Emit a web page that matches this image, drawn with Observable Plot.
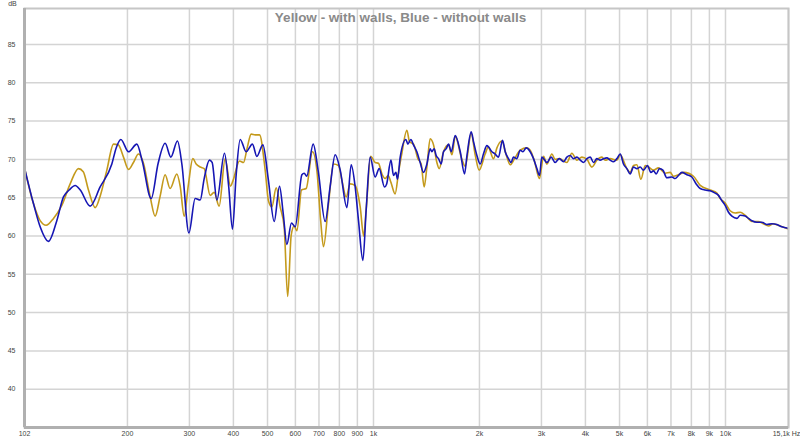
<!DOCTYPE html>
<html><head><meta charset="utf-8">
<script src="https://cdn.jsdelivr.net/npm/d3@7"></script>
<script src="https://cdn.jsdelivr.net/npm/@observablehq/plot@0.6"></script>
<style>
html,body{margin:0;padding:0;background:#fff;}
#chart{width:800px;height:440px;}
#chart svg{display:block;}
</style></head><body><div id="chart"></div>
<script>
const title = "Yellow - with walls, Blue - without walls";
const yUnit = "dB";
const xTicks = [102,200,300,400,500,600,700,800,900,1000,2000,3000,4000,5000,6000,7000,8000,9000,10000,15100];
const xTickLabels = ["102","200","300","400","500","600","700","800","900","1k","2k","3k","4k","5k","6k","7k","8k","9k","10k","15,1k Hz"];
const yTicks = [40,45,50,55,60,65,70,75,80,85];

// Blue - without walls
const blueFreq = [
  102,108.2,113,119.3,126,131.6,136.6,142.1,146.9,156.7,
  167.3,180.6,185.8,191.6,201.4,212.7,220.3,233.6,244.5,255.9,
  265.7,277.4,285.5,299,311.5,321.9,330.4,342,348,359,
  377.3,387.8,397.6,407.3,418.2,434.7,453,466.3,485.1,502.2,
  522.4,540.8,553.9,567.5,584.8,599.3,626.1,635.6,646,674.1,
  696.5,729.1,753.4,778.4,804.4,840.3,864.3,887.1,906.7,933,
  953.5,978.6,1011,1038,1075,1090,1121,1140,1158,1170,
  1191,1236,1252,1277,1299,1328,1357,1387,1418,1449,
  1465,1487,1507,1530,1557,1581,1609,1634,1663,1707,
  1764,1814,1843,1895,1924,1967,2010,2053,2100,2170,
  2217,2265,2326,2367,2418,2461,2498,2555,2610,2657,
  2715,2787,2848,2912,2962,3008,3109,3197,3282,3370,
  3466,3543,3621,3700,3783,3866,3951,4040,4128,4217,
  4312,4406,4502,4604,4703,4806,4914,5022,5131,5246,
  5361,5477,5601,5723,5848,6003,6138,6244,6354,6493,
  6639,6814,7041,7195,7352,7516,7766,8024,8255,8476,
  8757,9048,9348,9552,9768,9979,10197,10428,10775,11010,
  11376,11623,11885,12280,12688,13110,13545,13995,14460,15100
];
const blueDb = [
  68.9,64.2,61.2,59.3,62.0,65.1,66.0,66.6,66.0,63.9,
  66.4,69.4,71.5,72.6,71.0,72.0,69.8,64.9,69.5,72.1,
  70.3,72.4,69.4,60.4,64.9,64.7,67.5,69.9,69.6,64.7,
  70.8,66.5,60.9,68.0,72.6,71.0,72.0,70.4,71.9,67.5,
  61.9,66.5,63.0,58.9,61.7,61.2,68.0,68.2,67.8,72.0,
  68.5,61.9,66.5,70.6,68.6,63.7,69.3,66.4,62.0,56.8,
  63.5,70.3,67.7,68.8,66.4,66.8,69.9,67.9,68.3,67.4,
  70.3,72.6,72.0,72.6,71.9,71.0,69.6,68.3,69.4,71.4,
  71.0,71.4,70.5,70.1,69.4,71.0,71.4,72.0,71.0,73.1,
  71.0,68.1,70.5,73.6,72.3,70.5,69.4,70.7,71.8,71.0,
  70.7,70.3,72.5,71.0,70.1,69.6,70.3,70.1,71.2,71.0,
  71.5,71.0,70.1,68.8,67.9,70.3,69.6,70.3,69.6,70.1,
  69.7,70.3,70.5,70.1,70.3,69.9,69.6,70.1,70.3,69.6,
  70.1,69.9,70.1,70.2,69.9,69.7,70.1,70.7,69.4,68.8,
  68.1,69.0,68.8,69.0,68.6,69.2,68.3,68.5,68.1,68.8,
  68.6,67.6,67.7,67.5,67.9,68.3,68.0,67.7,66.8,66.2,
  66.0,65.9,65.6,65.3,64.6,64.0,63.1,62.6,62.3,62.7,
  62.6,62.3,62.0,61.8,61.8,61.5,61.6,61.5,61.2,61.0
];

// Yellow - with walls
const yellowFreq = [
  102,108.2,113,117.5,123.3,130.2,137.5,145.2,149.8,155,
  162,167.3,174.8,182.6,188.3,194.9,201.4,208,215,222.1,
  232.1,239.7,247.7,255.9,264.4,276.3,282.4,289.9,297.6,306.8,
  313.5,321.9,330.4,343.6,352.7,364.4,379,392.4,399.4,416.3,
  427.3,437.7,449.3,461.2,474.5,492.4,503.1,514.5,529.1,543.1,
  557.5,570.5,583.8,595.3,606,624.5,643.9,671,690.7,707.9,
  721.1,745.1,769.9,795.5,813.2,836.4,858.6,887.1,916.7,937.9,
  953.5,981.8,1011,1033,1057,1079,1101,1121,1152,1178,
  1204,1244,1266,1299,1337,1366,1393,1418,1449,1481,
  1514,1537,1581,1634,1671,1707,1783,1822,1895,1945,
  1996,2076,2118,2193,2242,2316,2382,2446,2510,2610,
  2728,2787,2861,2962,3041,3109,3212,3282,3370,3543,
  3661,3783,3908,4040,4174,4312,4455,4552,4703,4914,
  5022,5246,5361,5477,5601,5750,5914,6043,6244,6450,
  6740,6965,7117,7352,7631,8110,8476,9048,9454,9658,
  9979,10310,10656,11010,11376,11885,12387,12800,13254,13664,
  14111,15100
];
const yellowDb = [
  68.9,64.2,62.0,61.4,62.3,64.0,66.8,68.8,68.4,66.0,
  63.7,65.2,68.6,72.0,71.9,70.3,68.7,69.6,70.7,69.5,
  65.1,62.6,65.2,68.0,66.2,68.1,66.5,62.6,66.5,70.1,
  69.4,69.0,68.8,65.3,65.7,63.9,70.1,66.5,67.3,69.8,
  69.6,71.5,73.3,73.2,73.2,68.6,64.6,63.8,66.3,63.8,
  61.2,52.1,60.1,61.3,60.7,66.0,66.2,71.0,68.5,62.0,
  58.6,64.2,69.4,69.2,67.3,65.1,66.8,66.6,63.8,60.0,
  63.5,70.4,69.6,69.5,68.1,67.5,67.9,67.0,65.5,68.3,
  70.8,73.8,72.3,72.0,70.1,69.4,66.4,69.0,72.7,71.9,
  69.6,68.8,71.0,71.9,70.6,73.0,70.0,69.1,73.4,70.6,
  68.6,70.7,71.6,70.1,71.5,72.4,70.6,69.3,70.0,71.2,
  71.5,71.2,69.9,67.5,70.4,69.4,70.7,70.0,70.1,69.6,
  70.8,69.9,70.3,70.0,69.0,69.9,70.3,69.9,70.1,69.9,
  70.6,68.8,68.3,69.2,69.3,67.4,69.2,69.0,68.6,68.9,
  68.2,68.3,67.8,68.0,68.3,67.8,66.6,66.0,65.6,64.9,
  64.3,63.3,63.0,63.1,62.7,61.9,61.9,61.6,61.3,61.6,
  61.4,60.9
];

const blue = blueFreq.map((f, i) => ({f, db: blueDb[i]}));
const yellow = yellowFreq.map((f, i) => ({f, db: yellowDb[i]}));
const tickRows = xTicks.map((t, i) => ({t, label: xTickLabels[i]}));
const lastRow = tickRows.slice(-1);
const otherRows = tickRows.slice(0, -1);

const chart = Plot.plot({
  width: 800, height: 440,
  marginLeft: 24, marginRight: 12, marginTop: 8, marginBottom: 13,
  style: {fontFamily: "'Liberation Sans', Arial, sans-serif", fontSize: "7px", color: "#444", background: "#fff"},
  x: {type: "log", domain: [102, 15100], label: null, axis: null},
  y: {domain: [35, 89.7], label: null},
  marks: [
    Plot.gridX(xTicks, {stroke: "#d4d4d4", strokeOpacity: 1, strokeWidth: 1.5}),
    Plot.gridY(yTicks, {stroke: "#d4d4d4", strokeOpacity: 1, strokeWidth: 1.5}),
    Plot.text(otherRows, {x: "t", text: "label", frameAnchor: "bottom", lineAnchor: "top", dy: 4, fontSize: 7, fill: "#444"}),
    Plot.text(lastRow, {x: "t", text: "label", frameAnchor: "bottom", lineAnchor: "top", dy: 4, dx: -2, fontSize: 7, fill: "#444"}),
    Plot.axisY(yTicks, {tickSize: 0, tickPadding: 9, fill: "#444"}),
    Plot.line(yellow, {x: "f", y: "db", stroke: "#c49a1c", strokeWidth: 1.6, curve: "monotone-x", clip: true}),
    Plot.line(blue, {x: "f", y: "db", stroke: "#1616b4", strokeWidth: 1.6, curve: "monotone-x", clip: true}),
    Plot.frame({stroke: "#c6c6c6", strokeWidth: 2}),
    Plot.ruleX([102], {stroke: "#b0b0b0", strokeWidth: 3}),
    Plot.ruleY([35], {stroke: "#b0b0b0", strokeWidth: 3}),
    Plot.text([title], {frameAnchor: "top", dx: -6, dy: 3.5, lineAnchor: "top", fontSize: 13.5, fontWeight: "bold", fill: "#8a8a8a"}),
    Plot.text([yUnit], {frameAnchor: "top-left", dx: -12, dy: -5, textAnchor: "middle", lineAnchor: "middle", fontSize: 7, fill: "#444"})
  ]
});
document.getElementById("chart").append(chart);
</script>
</body></html>
